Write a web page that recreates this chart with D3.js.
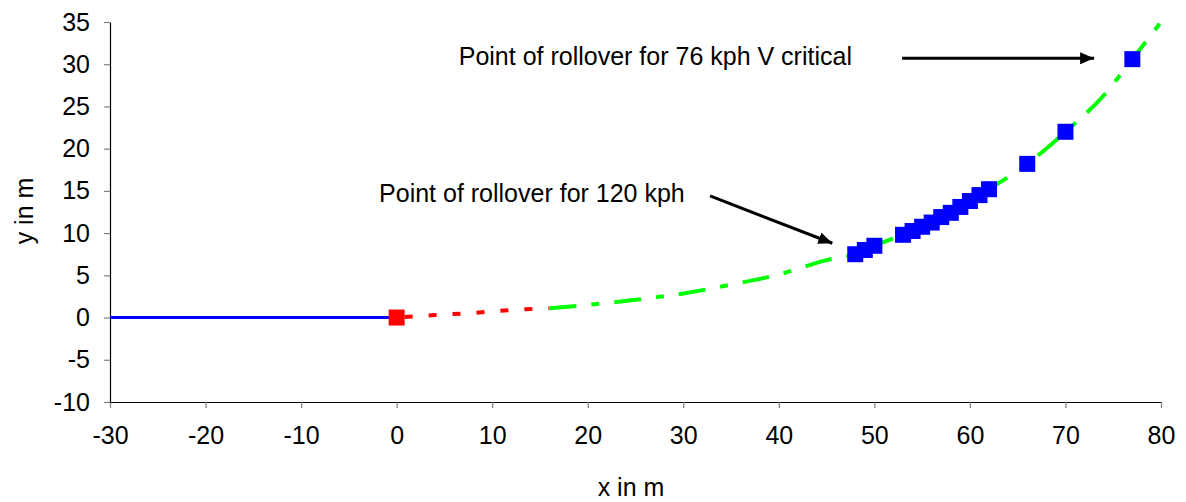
<!DOCTYPE html>
<html><head><meta charset="utf-8">
<script src="https://cdn.jsdelivr.net/npm/d3@7"></script>
<style>
html,body{margin:0;padding:0;background:#fff;}
svg{display:block;font-family:"Liberation Sans",Arial,sans-serif;}
</style></head>
<body>
<svg id="chart" width="1186" height="502"></svg>
<script>
// ---- data ----
const approachX = [-30, 0];
const approachY = [0, 0];
const startX = [0];
const startY = [0];
const redX = [0, 4, 8, 12, 16];
const redY = [0, 0.3, 0.55, 0.9, 1.1];
const greenX = [16, 20, 25, 30, 35, 40, 45, 48, 50, 53, 56, 59, 62, 66, 70, 74, 77, 80];
const greenY = [1.1, 1.5, 2.1, 2.85, 3.9, 5.1, 6.8, 7.5, 8.5, 9.8, 11.2, 13.1, 15.2, 18.2, 22.0, 26.3, 30.6, 35.0];
const rollX = [48, 49, 50, 53, 54, 55, 56, 57, 58, 59, 60, 61, 62, 66, 70, 77];
const rollY = [7.5, 8.0, 8.5, 9.8, 10.25, 10.75, 11.25, 11.9, 12.4, 13.1, 13.8, 14.5, 15.2, 18.2, 22.0, 30.6];
const xTicks = [-30, -20, -10, 0, 10, 20, 30, 40, 50, 60, 70, 80];
const yTicks = [-10, -5, 0, 5, 10, 15, 20, 25, 30, 35];
const notes = [
  {text: "Point of rollover for 76 kph V critical", tx: 6.5, ty: 29.9, x1: 52.9, y1: 30.7, x2: 73.0, y2: 30.7},
  {text: "Point of rollover for 120 kph", tx: -1.84, ty: 13.7, x1: 32.8, y1: 14.4, x2: 45.6, y2: 8.8}
];

const FS = 25;
const svg = d3.select("#chart");
const x = d3.scaleLinear().domain([-30, 80]).range([110, 1161]);
const y = d3.scaleLinear().domain([-10, 35]).range([402, 22]);
const fmt = d => String(d); // plain hyphen minus

// axes
const gx = svg.append("g").attr("transform", "translate(0,402)")
  .call(d3.axisBottom(x).tickValues(xTicks).tickFormat(fmt).tickSize(6).tickPadding(18).tickSizeOuter(0));
const gy = svg.append("g").attr("transform", "translate(110,0)")
  .call(d3.axisLeft(y).tickValues(yTicks).tickFormat(fmt).tickSize(6).tickPadding(14).tickSizeOuter(0));
[gx, gy].forEach(g => {
  g.select(".domain").attr("stroke", "#000").attr("stroke-width", 1.2);
  g.selectAll(".tick line").attr("stroke", "#808080").attr("stroke-width", 1.2);
  g.selectAll(".tick text").attr("fill", "#000").attr("font-size", FS)
    .attr("font-family", "'Liberation Sans', Arial, sans-serif");
});

// axis titles
svg.append("text").attr("x", 631).attr("y", 496).attr("text-anchor", "middle")
  .attr("font-size", FS).text("x in m");
svg.append("text").attr("transform", "translate(33,211) rotate(-90)").attr("text-anchor", "middle")
  .attr("font-size", FS).text("y in m");

const line = d3.line().x(d => x(d[0])).y(d => y(d[1]));
const smooth = d3.line().x(d => x(d[0])).y(d => y(d[1])).curve(d3.curveMonotoneX);

// approach line
svg.append("path").datum(approachX.map((v, i) => [v, approachY[i]]))
  .attr("d", line).attr("fill", "none").attr("stroke", "#0000FF").attr("stroke-width", 3);

// red dashed
svg.append("path").datum(redX.map((v, i) => [v, redY[i]]))
  .attr("d", smooth).attr("fill", "none").attr("stroke", "#FF0000").attr("stroke-width", 4)
  .attr("stroke-dasharray", "8,16").attr("stroke-dashoffset", -8);

// green dash-dot
svg.append("path").datum(greenX.map((v, i) => [v, greenY[i]]))
  .attr("d", smooth).attr("fill", "none").attr("stroke", "#00FF00").attr("stroke-width", 4)
  .attr("stroke-dasharray", "27,15,8,15");

// markers
const sz = 16;
svg.append("g").selectAll("rect").data(startX.map((v, i) => [v, startY[i]])).join("rect")
  .attr("x", d => x(d[0]) - sz / 2).attr("y", d => y(d[1]) - sz / 2)
  .attr("width", sz).attr("height", sz).attr("fill", "#FF0000");
svg.append("g").selectAll("rect").data(rollX.map((v, i) => [v, rollY[i]])).join("rect")
  .attr("x", d => x(d[0]) - sz / 2).attr("y", d => y(d[1]) - sz / 2)
  .attr("width", sz).attr("height", sz).attr("fill", "#0000FF");

// arrow marker
svg.append("defs").append("marker").attr("id", "arrow")
  .attr("viewBox", "0 0 14 12").attr("refX", 14).attr("refY", 6)
  .attr("markerWidth", 14).attr("markerHeight", 12).attr("markerUnits", "userSpaceOnUse")
  .attr("orient", "auto")
  .append("path").attr("d", "M0,0 L14,6 L0,12 Z").attr("fill", "#000");

notes.forEach(n => {
  svg.append("text").attr("x", x(n.tx)).attr("y", y(n.ty)).attr("font-size", FS)
    .attr("fill", "#000").text(n.text);
  svg.append("line").attr("x1", x(n.x1)).attr("y1", y(n.y1)).attr("x2", x(n.x2)).attr("y2", y(n.y2))
    .attr("stroke", "#000").attr("stroke-width", 3).attr("marker-end", "url(#arrow)");
});
</script>
</body></html>
